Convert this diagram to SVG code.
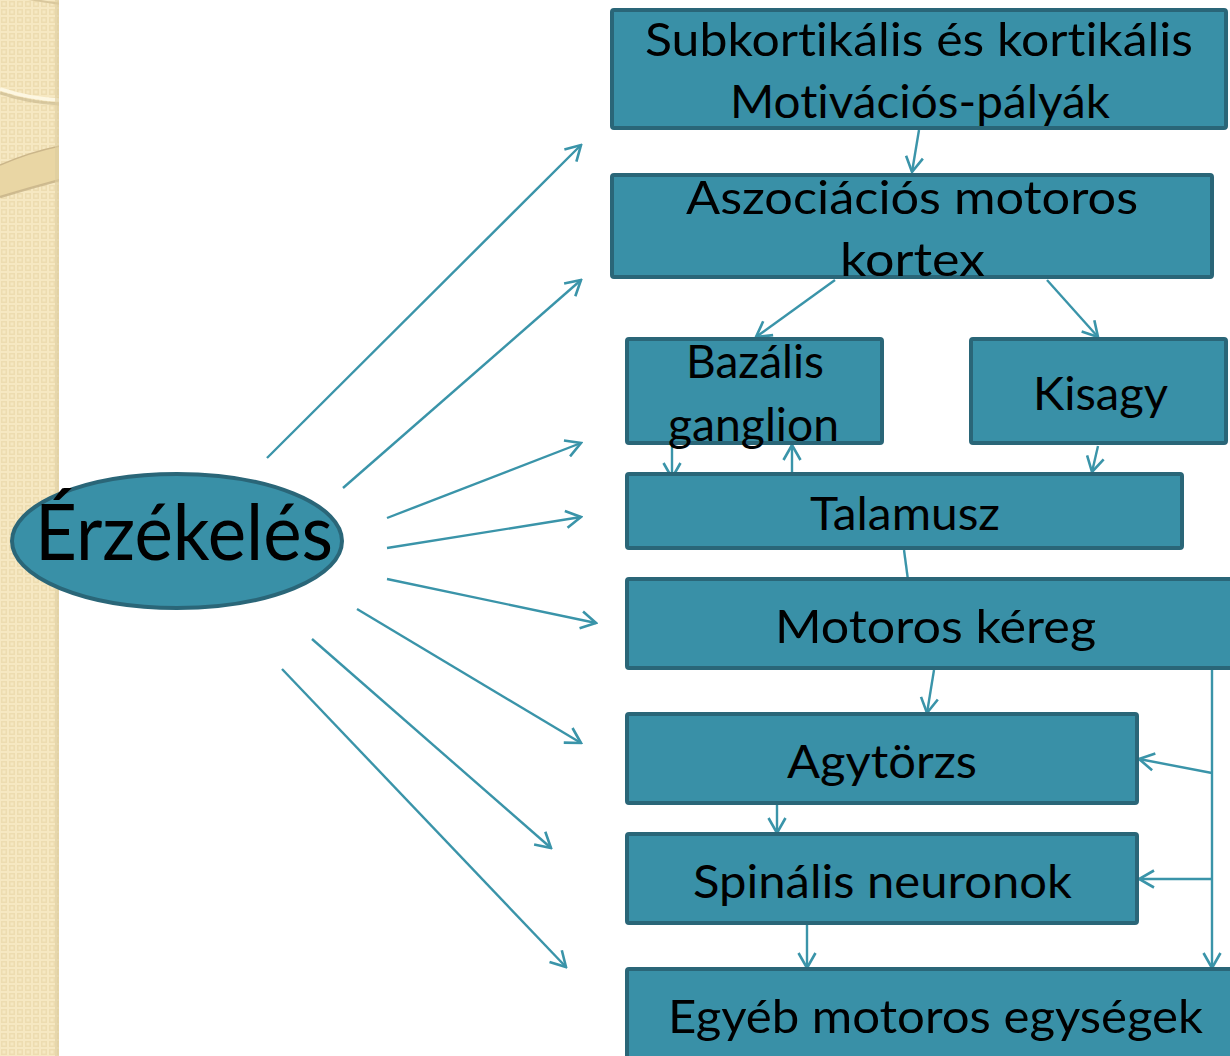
<svg xmlns="http://www.w3.org/2000/svg" width="1230" height="1056" viewBox="0 0 1230 1056">
<style>
.box{fill:#3990a7;stroke:#2a6678;stroke-width:4}
.t{font-family:Lato,"Open Sans","Liberation Sans",sans-serif;font-size:47px;fill:#000;font-variant-ligatures:none;font-feature-settings:"liga" 0,"clig" 0}
.c{stroke:#3a94a9;stroke-width:2.4;fill:none}
.ca{stroke:#3a94a9;stroke-width:2.4;fill:none;marker-end:url(#ah)}
</style>
<defs>
<marker id="ah" viewBox="0 0 18 20" refX="16" refY="10" markerWidth="18" markerHeight="20" markerUnits="userSpaceOnUse" orient="auto">
<path d="M1,1.5 L16,10 L1,18.5" fill="none" stroke="#3a94a9" stroke-width="2.6"/>
</marker>
<pattern id="chk" width="8" height="8" patternUnits="userSpaceOnUse">
<rect width="8" height="8" fill="#f6e8c2"/>
<rect x="1" y="1" width="6" height="6" fill="#eddcb0"/>
<rect x="2.5" y="2.5" width="3" height="3" fill="#f6e8c2"/>
</pattern>
<clipPath id="strip"><rect x="0" y="0" width="59" height="1056"/></clipPath>
</defs>
<rect x="0" y="0" width="1230" height="1056" fill="#fff"/>
<g id="background">
<rect x="0" y="0" width="59" height="1056" fill="url(#chk)"/>
<g clip-path="url(#strip)">
<path d="M-20,-10 Q30,0 62,4" fill="none" stroke="#d9c79c" stroke-width="2"/>
<path d="M0,93 Q30,103 60,104" fill="none" stroke="#c7b58c" stroke-width="3" opacity="0.6"/>
<path d="M0,89 Q30,99 60,100" fill="none" stroke="#fdf7e2" stroke-width="3.5"/>
<path d="M0,165 Q30,152 60,146 L60,180 Q30,188 0,197 Z" fill="#e9d6a4"/>
<path d="M0,165 Q30,152 60,146" fill="none" stroke="#cbb68a" stroke-width="1.5"/>
<path d="M0,197 Q30,188 60,180" fill="none" stroke="#c6b187" stroke-width="2.5" opacity="0.8"/>
</g>
<rect x="55" y="0" width="4" height="1056" fill="#dccb9f" opacity="0.6"/>
</g>
<g id="connectors">
<line class="ca" x1="267" y1="458" x2="581" y2="145"/>
<line class="ca" x1="343" y1="488" x2="581" y2="280"/>
<line class="ca" x1="387" y1="518" x2="581" y2="443"/>
<line class="ca" x1="387" y1="548" x2="581" y2="517"/>
<line class="ca" x1="387" y1="579" x2="596" y2="623"/>
<line class="ca" x1="357" y1="609" x2="581" y2="743"/>
<line class="ca" x1="312" y1="639" x2="551" y2="848"/>
<line class="ca" x1="282" y1="669" x2="566" y2="967"/>
<line class="ca" x1="919" y1="130" x2="912" y2="172"/>
<line class="ca" x1="835" y1="280" x2="756" y2="337"/>
<line class="ca" x1="1047" y1="280" x2="1098" y2="337"/>
<line class="ca" x1="1098" y1="446" x2="1092" y2="472"/>
<line class="ca" x1="672" y1="446" x2="672" y2="478"/>
<line class="ca" x1="792" y1="473" x2="792" y2="445"/>
<line class="c" x1="904" y1="550" x2="908" y2="580"/>
<line class="ca" x1="934" y1="670" x2="927" y2="713"/>
<line class="ca" x1="1212" y1="670" x2="1212" y2="968"/>
<line class="ca" x1="1212" y1="773" x2="1139" y2="759"/>
<line class="ca" x1="1212" y1="879" x2="1139" y2="879"/>
<line class="ca" x1="777" y1="805" x2="777" y2="833"/>
<line class="ca" x1="807" y1="925" x2="807" y2="968"/>
</g>
<g id="node-erzekeles">
<ellipse cx="177" cy="541" rx="165" ry="67" fill="#3990a7" stroke="#2a6678" stroke-width="4"/>
<text class="t" x="35" y="560" style="font-size:78px" textLength="298" lengthAdjust="spacingAndGlyphs">Érzékelés</text>
</g>
<g id="node-subkortikalis">
<rect class="box" x="612" y="10" width="614" height="118" rx="2"/>
<text class="t" x="645" y="56" textLength="548" lengthAdjust="spacingAndGlyphs">Subkortikális és kortikális</text>
<text class="t" x="730" y="118" textLength="380" lengthAdjust="spacingAndGlyphs">Motivációs-pályák</text>
</g>
<g id="node-asszociacios">
<rect class="box" x="612" y="175" width="600" height="102" rx="2"/>
<text class="t" x="686" y="214" textLength="452" lengthAdjust="spacingAndGlyphs">Aszociációs motoros</text>
<text class="t" x="840" y="276" textLength="145" lengthAdjust="spacingAndGlyphs">kortex</text>
</g>
<g id="node-bazalis">
<rect class="box" x="627" y="339" width="255" height="104" rx="2"/>
<text class="t" x="686" y="378" textLength="138" lengthAdjust="spacingAndGlyphs">Bazális</text>
<text class="t" x="668" y="441" textLength="171" lengthAdjust="spacingAndGlyphs">ganglion</text>
</g>
<g id="node-kisagy">
<rect class="box" x="971" y="339" width="255" height="104" rx="2"/>
<text class="t" x="1033" y="410" textLength="135" lengthAdjust="spacingAndGlyphs">Kisagy</text>
</g>
<g id="node-talamusz">
<rect class="box" x="627" y="474" width="555" height="74" rx="2"/>
<text class="t" x="810" y="530" textLength="190" lengthAdjust="spacingAndGlyphs">Talamusz</text>
</g>
<g id="node-motoros-kereg">
<rect class="box" x="627" y="579" width="615" height="89" rx="2"/>
<text class="t" x="775" y="643" textLength="321" lengthAdjust="spacingAndGlyphs">Motoros kéreg</text>
</g>
<g id="node-agytorzs">
<rect class="box" x="627" y="714" width="510" height="89" rx="2"/>
<text class="t" x="787" y="778" textLength="190" lengthAdjust="spacingAndGlyphs">Agytörzs</text>
</g>
<g id="node-spinalis">
<rect class="box" x="627" y="834" width="510" height="89" rx="2"/>
<text class="t" x="693" y="898" textLength="379" lengthAdjust="spacingAndGlyphs">Spinális neuronok</text>
</g>
<g id="node-egyeb">
<rect class="box" x="627" y="969" width="620" height="100" rx="2"/>
<text class="t" x="668" y="1033" textLength="535" lengthAdjust="spacingAndGlyphs">Egyéb motoros egységek</text>
</g>
</svg>
